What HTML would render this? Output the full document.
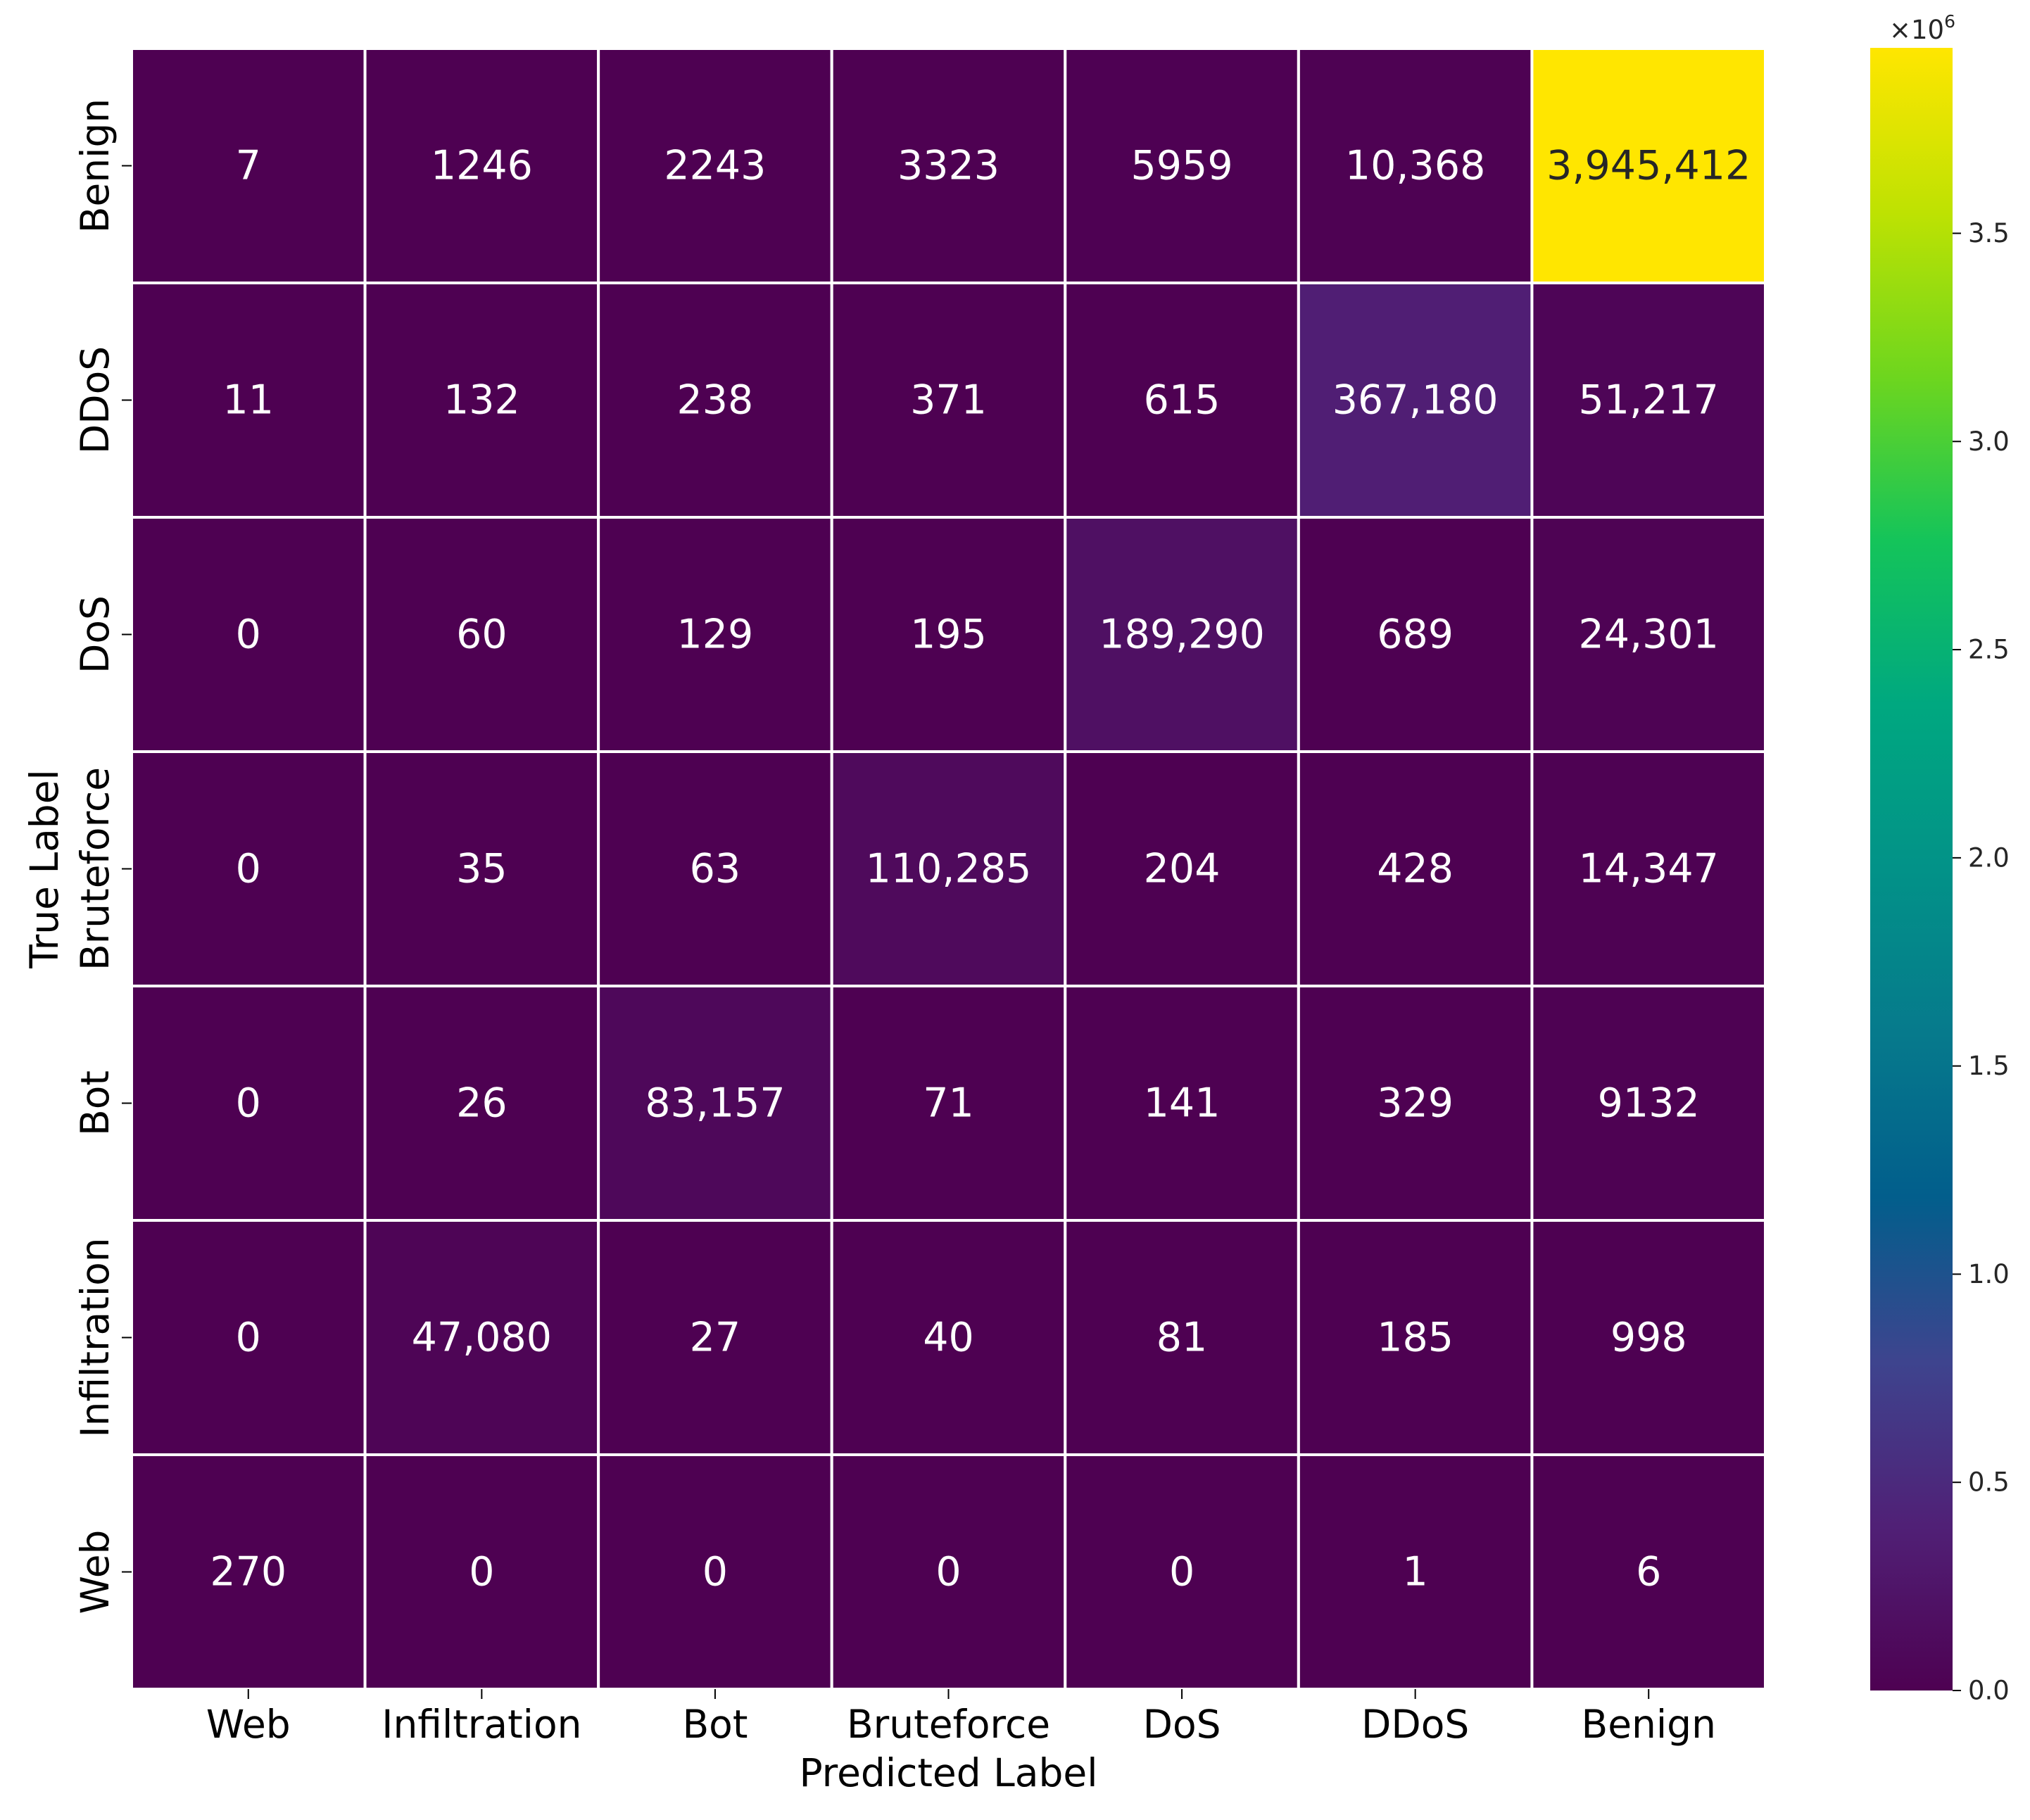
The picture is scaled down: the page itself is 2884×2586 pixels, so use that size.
<!DOCTYPE html>
<html><head><meta charset="utf-8"><style>
html,body{margin:0;padding:0;background:#fff;}
svg{display:block;font-family:"DejaVu Sans","Liberation Sans",sans-serif;}
</style></head>
<body>
<svg id="chart" width="2884" height="2586" viewBox="0 0 2884 2586" xmlns="http://www.w3.org/2000/svg">
<rect x="0" y="0" width="2884" height="2586" fill="#fff"/>
<g id="cells"></g>
<g id="axes"></g>
<defs><linearGradient id="cbgrad" x1="0" y1="1" x2="0" y2="0"></linearGradient></defs>
<g id="cbar"></g>
</svg>
<script>
const rowLabels = ["Benign","DDoS","DoS","Bruteforce","Bot","Infiltration","Web"];
const colLabels = ["Web","Infiltration","Bot","Bruteforce","DoS","DDoS","Benign"];
const rowBenign = [7,1246,2243,3323,5959,10368,3945412];
const rowDDoS = [11,132,238,371,615,367180,51217];
const rowDoS = [0,60,129,195,189290,689,24301];
const rowBruteforce = [0,35,63,110285,204,428,14347];
const rowBot = [0,26,83157,71,141,329,9132];
const rowInfiltration = [0,47080,27,40,81,185,998];
const rowWeb = [270,0,0,0,0,1,6];
const cbTicks = [0,0.5,1.0,1.5,2.0,2.5,3.0,3.5];
const cbTickLabels = ["0.0","0.5","1.0","1.5","2.0","2.5","3.0","3.5"];
const matrix = [rowBenign,rowDDoS,rowDoS,rowBruteforce,rowBot,rowInfiltration,rowWeb];

const NS="http://www.w3.org/2000/svg";
const X0=187,X1=2508,Y0=69,Y1=2400;
const nC=colLabels.length,nR=rowLabels.length;
const cw=(X1-X0)/nC,ch=(Y1-Y0)/nR;
const vmin=0,vmax=Math.max(...matrix.flat());
const xPos=i=>X0+i*cw, yPos=j=>Y0+j*ch;
const CB_X=2657,CB_W=117,CB_Y0=68,CB_Y1=2402;
const cbY=v=>CB_Y1-(v-vmin)/(vmax-vmin)*(CB_Y1-CB_Y0);

const vir=[[78,1,82],[80,32,118],[62,68,142],[2,94,140],[6,122,140],[2,146,136],[0,168,128],[20,196,90],[110,214,30],[190,226,2],[255,230,0]];
function viridis(t){t=Math.max(0,Math.min(1,t));const p=t*(vir.length-1);const i=Math.min(vir.length-2,Math.floor(p));const f=p-i;
 const c=vir[i].map((a,k)=>Math.round(a+(vir[i+1][k]-a)*f));return `rgb(${c[0]},${c[1]},${c[2]})`;}
function el(tag,attrs,parent){const e=document.createElementNS(NS,tag);for(const k in attrs)e.setAttribute(k,attrs[k]);parent.appendChild(e);return e;}
function fmt(v){return v>=10000?v.toLocaleString('en-US'):String(v);}

const cells=document.getElementById('cells');
matrix.forEach((row,j)=>row.forEach((v,i)=>{
  const t=(v-vmin)/(vmax-vmin);
  const r=el('rect',{x:xPos(i),y:yPos(j),width:cw,height:ch,fill:viridis(t),stroke:'#fff','stroke-width':4},cells);
  
  
  const tx=el('text',{x:xPos(i)+cw/2,y:yPos(j)+ch/2,'text-anchor':'middle','dominant-baseline':'central','font-size':57,fill:t>0.5?'#262626':'#fff'},cells);
  tx.textContent=fmt(v);
  
  
}));

const axes=document.getElementById('axes');
colLabels.forEach((c,i)=>{
  const cx=xPos(i)+cw/2;
  const tk=el('line',{x1:cx,x2:cx,y1:Y1,y2:Y1+14,stroke:'#000','stroke-width':2},axes);
  
  
  const t=el('text',{x:cx,y:2469,'text-anchor':'middle','font-size':55,fill:'#000'},axes);
  t.textContent=c;
  
  
});
rowLabels.forEach((r,j)=>{
  const cy=yPos(j)+ch/2;
  const tk=el('line',{x1:X0-14,x2:X0,y1:cy,y2:cy,stroke:'#000','stroke-width':2},axes);
  
  
  const t=el('text',{x:0,y:0,transform:`translate(154,${cy}) rotate(-90)`,'text-anchor':'middle','font-size':55,fill:'#000'},axes);
  t.textContent=r;
  
  
});
const xt=el('text',{x:(X0+X1)/2,y:2538,'text-anchor':'middle','font-size':55,fill:'#000'},axes);
xt.textContent='Predicted Label';


const yt=el('text',{x:0,y:0,transform:`translate(82,${(Y0+Y1)/2}) rotate(-90)`,'text-anchor':'middle','font-size':55,fill:'#000'},axes);
yt.textContent='True Label';



const grad=document.getElementById('cbgrad');
for(let k=0;k<=20;k++){el('stop',{offset:(k/20),'stop-color':viridis(k/20)},grad);}
const cbar=document.getElementById('cbar');
const cbr=el('rect',{x:CB_X,y:CB_Y0,width:CB_W,height:CB_Y1-CB_Y0,fill:'url(#cbgrad)'},cbar);


cbTicks.forEach((v,k)=>{
  const y=cbY(v*1e6);
  const tk=el('line',{x1:CB_X+CB_W,x2:CB_X+CB_W+12,y1:y,y2:y,stroke:'#000','stroke-width':2},cbar);
  
  
  const t=el('text',{x:CB_X+CB_W+22,y:y,'dominant-baseline':'central','font-size':37,fill:'#262626'},cbar);
  t.textContent=cbTickLabels[k];
  
  
});
const off=el('text',{x:2684,y:55,'font-size':37,fill:'#262626'},cbar);
off.innerHTML='×10<tspan dy="-16" font-size="25">6</tspan>';


</script>
</body></html>
